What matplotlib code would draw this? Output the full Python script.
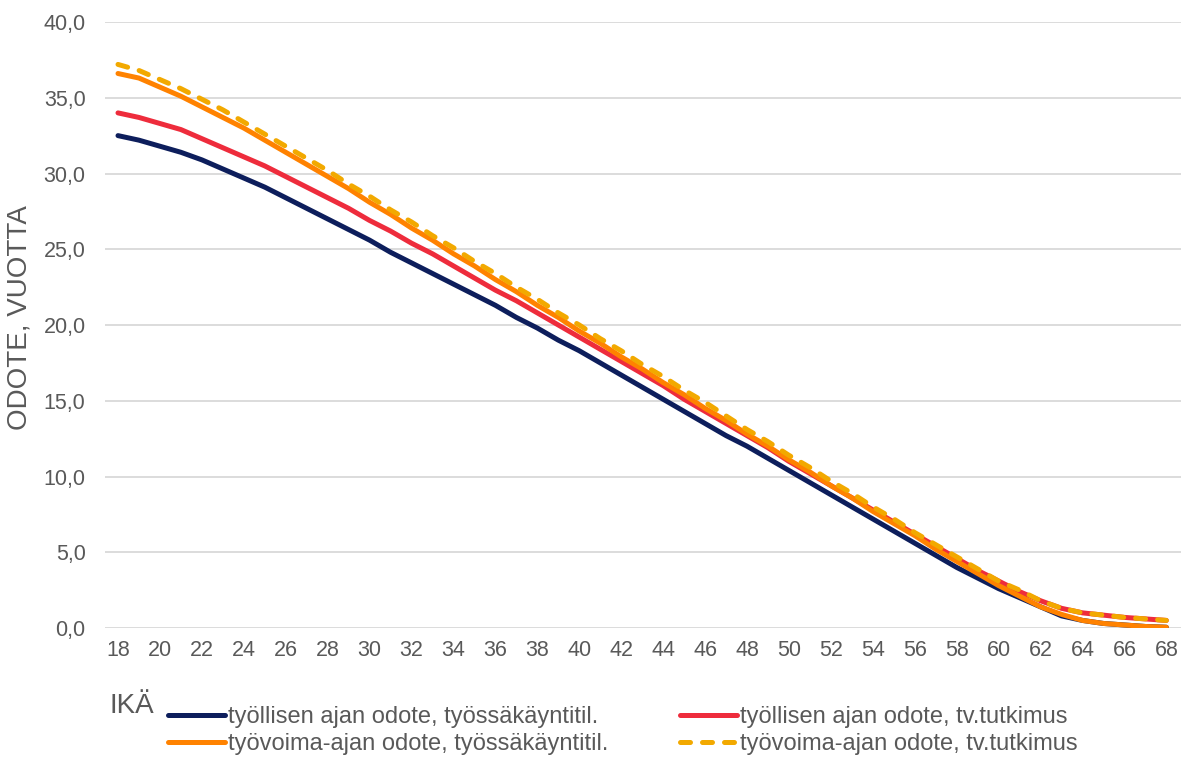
import numpy as np
import matplotlib
matplotlib.use('Agg')
import matplotlib.pyplot as plt

plt.rcParams['font.family'] = ['Liberation Sans', 'DejaVu Sans']

# ikä 18..68
ika = list(range(18, 69))

tyollinen_tk = [32.5, 32.2, 31.8, 31.4, 30.9, 30.3, 29.7, 29.1, 28.4, 27.7,
                27.0, 26.3, 25.6, 24.8, 24.1, 23.4, 22.7, 22.0, 21.3, 20.5,
                19.8, 19.0, 18.3, 17.5, 16.7, 15.9, 15.1, 14.3, 13.5, 12.7,
                12.0, 11.2, 10.4, 9.6, 8.8, 8.0, 7.2, 6.4, 5.6, 4.8,
                4.0, 3.3, 2.6, 2.0, 1.4, 0.8, 0.5, 0.3, 0.2, 0.1, 0.05]
tyollinen_tv = [34.0, 33.7, 33.3, 32.9, 32.3, 31.7, 31.1, 30.5, 29.8, 29.1,
                28.4, 27.7, 26.9, 26.2, 25.4, 24.7, 23.9, 23.1, 22.3, 21.6,
                20.8, 20.0, 19.2, 18.4, 17.6, 16.8, 16.0, 15.1, 14.3, 13.5,
                12.7, 11.9, 11.0, 10.2, 9.4, 8.6, 7.8, 7.0, 6.2, 5.4,
                4.6, 3.8, 3.1, 2.4, 1.8, 1.3, 1.0, 0.85, 0.7, 0.6, 0.5]
tyovoima_tk = [36.6, 36.3, 35.7, 35.1, 34.4, 33.7, 33.0, 32.2, 31.4, 30.6,
               29.8, 29.0, 28.1, 27.3, 26.4, 25.6, 24.7, 23.9, 23.0, 22.2,
               21.3, 20.5, 19.6, 18.8, 17.9, 17.1, 16.2, 15.4, 14.5, 13.7,
               12.8, 12.0, 11.1, 10.3, 9.4, 8.6, 7.7, 6.9, 6.1, 5.2,
               4.4, 3.6, 2.8, 2.1, 1.4, 0.9, 0.5, 0.3, 0.2, 0.1, 0.05]
tyovoima_tv = [37.2, 36.8, 36.2, 35.6, 34.9, 34.2, 33.4, 32.6, 31.8, 31.0,
               30.2, 29.3, 28.5, 27.6, 26.8, 25.9, 25.1, 24.2, 23.4, 22.5,
               21.7, 20.8, 20.0, 19.1, 18.3, 17.4, 16.6, 15.7, 14.9, 14.0,
               13.1, 12.3, 11.4, 10.6, 9.7, 8.9, 8.0, 7.2, 6.3, 5.5,
               4.7, 3.9, 3.1, 2.5, 1.8, 1.3, 1.0, 0.85, 0.7, 0.6, 0.5]

y_ticks = [0, 5, 10, 15, 20, 25, 30, 35, 40]
x_ticks = list(range(18, 69, 2))

harmaa = '#595959'
lw = 3.6

fig = plt.figure(figsize=(11.87, 7.58), dpi=100)
ax = fig.add_axes([105 / 1187, 1 - 628 / 758, (1181 - 105) / 1187, (628 - 22) / 758])

l1, = ax.plot(ika, tyollinen_tk, color='#0D1E5C', lw=lw, solid_capstyle='round',
              label='työllisen ajan odote, työssäkäyntitil.')
l2, = ax.plot(ika, tyollinen_tv, color='#EE2C3C', lw=lw, solid_capstyle='round',
              label='työllisen ajan odote, tv.tutkimus')
l3, = ax.plot(ika, tyovoima_tk, color='#FF8200', lw=lw, solid_capstyle='round',
              label='työvoima-ajan odote, työssäkäyntitil.')
l4, = ax.plot(ika, tyovoima_tv, color='#F2A900', lw=lw, ls=(0, (2.0, 2.4)),
              dash_capstyle='round', label='työvoima-ajan odote, tv.tutkimus')

ax.set_xlim(17.38, 68.7)
ax.set_ylim(0, 40)
ax.set_yticks(y_ticks)
ax.set_yticklabels([f'{v:.1f}'.replace('.', ',') for v in y_ticks])
ax.set_xticks(x_ticks)
ax.grid(axis='y', color='#D9D9D9', lw=1.3)
ax.set_axisbelow(True)
for s in ax.spines.values():
    s.set_visible(False)
ax.tick_params(axis='both', length=0, labelsize=15.5, colors=harmaa)
ax.tick_params(axis='y', pad=14)
ax.tick_params(axis='x', pad=9)

fig.text(20 / 1187, 1 - 318 / 758, 'ODOTE, VUOTTA', rotation=90, ha='center', va='center',
         fontsize=20, color=harmaa)
fig.text(110 / 1187, 1 - 706 / 758, 'IKÄ', ha='left', va='center', fontsize=20, color=harmaa)

# legenda kahteen sarakkeeseen, rivit: tyollinen / tyovoima
leg_kw = dict(loc='upper left', ncol=1, frameon=False, fontsize=17, handlelength=2.4,
              handletextpad=0.12, labelspacing=0.22, borderaxespad=0, borderpad=0)
leg1 = fig.legend(handles=[l1, l3], bbox_to_anchor=(168 / 1187, 1 - 706 / 758), **leg_kw)
leg2 = fig.legend(handles=[l2, l4], bbox_to_anchor=(680 / 1187, 1 - 706 / 758), **leg_kw)
for leg in (leg1, leg2):
    for t in leg.get_texts():
        t.set_color(harmaa)

fig.savefig('out.png', dpi=100)
